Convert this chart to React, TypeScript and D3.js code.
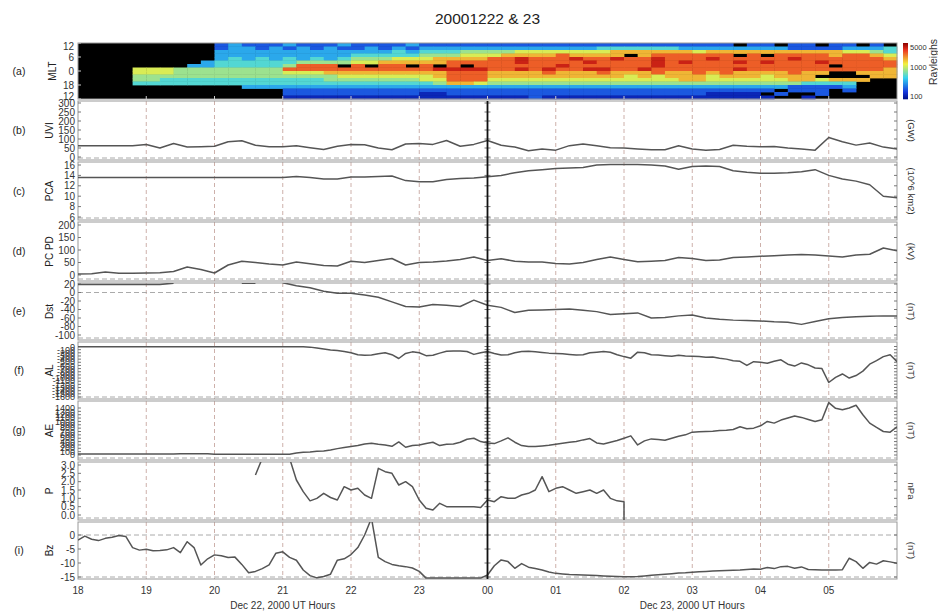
import React, { useEffect, useRef } from 'react'
import * as d3 from 'd3'

// hour axis
const hourTicks = [18, 19, 20, 21, 22, 23, 24, 25, 26, 27, 28, 29]
const hourLabels = ['18', '19', '20', '21', '22', '23', '00', '01', '02', '03', '04', '05']

// 0.2 h samples, 18.0 .. 30.0 UT
const uvi = [63, 63, 63, 63, 63, 70, 50, 75, 55, 57, 60, 85, 90, 65, 57, 57, 62, 52, 42, 60, 70, 68, 50, 40, 72, 75, 70, 92, 60, 70, 92, 65, 55, 35, 45, 38, 63, 72, 62, 52, 50, 45, 40, 40, 62, 45, 38, 42, 65, 60, 57, 58, 50, 44, 38, 108, 85, 66, 78, 55, 44]
const pca = [13.6, 13.6, 13.6, 13.6, 13.6, 13.6, 13.6, 13.6, 13.6, 13.6, 13.6, 13.6, 13.6, 13.6, 13.6, 13.6, 13.8, 13.6, 13.3, 13.3, 13.7, 13.7, 13.8, 13.9, 13.0, 12.8, 12.8, 13.2, 13.4, 13.5, 13.75, 14.0, 14.5, 14.9, 15.1, 15.35, 15.4, 15.5, 16.0, 16.1, 16.1, 16.1, 16.0, 15.8, 15.2, 15.7, 15.8, 15.7, 14.9, 14.6, 14.4, 14.4, 14.5, 14.7, 15.1, 14.0, 13.3, 12.9, 12.2, 10.0, 9.7]
const pcpd = [4, 5, 12, 7, 7, 8, 9, 14, 32, 22, 8, 40, 55, 50, 44, 40, 52, 45, 38, 36, 55, 50, 58, 66, 40, 50, 52, 56, 62, 72, 58, 65, 55, 52, 52, 46, 44, 50, 62, 72, 62, 53, 55, 58, 70, 66, 58, 60, 70, 72, 75, 77, 80, 82, 80, 76, 72, 80, 83, 108, 97]
const dst = [19, 19, 19, 19, 19, 19, 19, 22, null, null, null, null, 22, 22, null, 23, 16, 11, 3, -2, -2, -6, -11, -22, -33, -34, -28, -30, -33, -18, -30, -35, -47, -42, -41, -40, -39, -42, -45, -52, -50, -48, -60, -59, -55, -53, -60, -63, -65, -66, -67, -69, -70, -75, -68, -62, -59, -57, -56, -55, -55]

// 0.1 h samples, 18.0 .. 30.0 UT
const al = [
	-10, -10, -10, -10, -10, -10, -10, -10, -10, -10,
	-10, -10, -10, -10, -10, -10, -10, -10, -10, -10,
	-10, -10, -10, -10, -10, -10, -10, -10, -10, -10,
	-10, -10, -10, -10, -20, -50, -80, -110, -130, -160,
	-200, -260, -280, -270, -230, -200, -260, -380, -220, -170,
	-200, -290, -280, -210, -150, -140, -140, -160, -250, -200,
	-160, -220, -270, -260, -200, -160, -150, -170, -190, -210,
	-220, -230, -250, -270, -260, -200, -180, -160, -180, -260,
	-320, -370, -180, -200, -260, -270, -290, -310, -280, -300,
	-310, -320, -340, -330, -370, -400, -450, -470, -600, -480,
	-500, -530, -470, -420, -560, -620, -520, -580, -680, -700,
	-1140, -980, -870, -1000, -920, -780, -560, -450, -320, -260,
	-480,
]
const ae = [
	30, 30, 30, 30, 30, 30, 30, 30, 30, 30,
	30, 30, 30, 30, 30, 40, 40, 40, 40, 40,
	25, 25, 25, 25, 25, 25, 25, 25, 25, 25,
	25, 25, 60, 80, 90, 110, 120, 150, 190, 220,
	250, 280, 330, 350, 320, 300, 260, 390, 230, 280,
	300, 340, 380, 280, 320, 330, 380, 470, 500, 400,
	360, 340, 420, 510, 380, 280, 250, 250, 270, 290,
	320, 350, 380, 400, 450, 490, 360, 330, 380, 430,
	500, 570, 300, 420, 480, 460, 440, 500, 560, 600,
	680, 690, 700, 710, 730, 740, 760, 840, 780, 800,
	870, 1000, 950, 1040, 1100, 1160, 1120, 1060, 1000, 1050,
	1560, 1390, 1350, 1400, 1480, 1200, 950, 820, 700, 680,
	840,
]
const pdyn = [
	null, null, null, null, null, null, null, null, null, null,
	null, null, null, null, null, null, null, null, null, null,
	null, null, null, null, null, null, 2.4, 3.4, null, null,
	null, 3.4, 2.1, 1.4, 0.85, 1.0, 1.3, 1.05, 0.9, 1.7,
	1.5, 1.6, 1.2, 1.0, 2.8, 2.6, 2.5, 1.8, 2.0, 1.7,
	0.9, 0.4, 0.3, 0.7, 0.5, 0.5, 0.5, 0.5, 0.5, 0.45,
	0.9, 0.8, 1.1, 1.0, 1.0, 1.2, 1.3, 1.5, 2.3, 1.4,
	1.6, 1.7, 1.5, 1.3, 1.4, 1.5, 1.3, 1.5, 1.0, 0.85,
	0.8, null, null, null, null, null, null, null, null, null,
	null, null, null, null, null, null, null, null, null, null,
	null, null, null, null, null, null, null, null, null, null,
	null, null, null, null, null, null, null, null, null, null,
	null,
]
const pdynDrop = { hour: 26.0, value: -0.3 }
const bz = [
	-1.8, -0.4, -1.5, -2.0, -1.2, -0.8, -0.2, -0.5, -4.5, -5.4,
	-5.1, -5.6, -5.5, -5.3, -4.5, -6.3, -2.4, -4.5, -10.7, -8.5,
	-7.1, -7.4, -8.0, -7.9, -10.5, -13.5, -13.0, -12.0, -10.7, -6.5,
	-6.0, -8.0, -9.0, -12.5, -14.5, -15.3, -14.8, -14.0, -9.0, -8.5,
	-7.0, -4.5, 0, 6.0, -8.0, -9.5, -10.5, -11.0, -11.3, -11.8,
	-13.0, -15.4, -15.4, -15.4, -15.4, -15.4, -15.4, -15.4, -15.4, -15.4,
	-14.3, -11.0, -8.9, -9.5, -11.9, -10.2, -11.5, -12.0, -12.5, -13.2,
	-13.7, -13.9, -14.1, -14.2, -14.3, -14.4, -14.5, -14.6, -14.7, -14.8,
	-14.9, -14.9, -14.8, -14.6, -14.4, -14.2, -14.0, -13.8, -13.6, -13.5,
	-13.3, -13.1, -13.0, -12.9, -12.8, -12.7, -12.6, -12.5, -12.3, -12.1,
	-12.2, -11.6, -12.0, -11.3, -11.2, -11.9, -11.4, -12.3, -12.4, -12.5,
	-12.5, -12.5, -12.4, -8.3, -9.5, -11.9, -9.8, -10.4, -9.2, -9.6,
	-10.1,
]

// UVI aurora keogram: rows from MLT 12 (top) down to MLT 12, 1.5 h each; columns 0.2 h UT
// '.' = black, digits = intensity level
const auroraRows = [
	'..........' + '2322232223' + '2222322222' + '2222222222' + '22222222.2' + '2.22.22.2.',
	'..........' + '2332323232' + '2323233333' + '3333333344' + '4444333333' + '3322223334',
	'..........' + '3333333333' + '3334344455' + '5566666667' + '7777767777' + '7777776654',
	'..........' + '3333333333' + '4444455566' + '6777787777' + '.7888888.8' + '.888878876',
	'..........' + '3434343434' + '5556667777' + '8898889889' + '8898889888' + '8898888887',
	'.........3' + '4444445555' + '6677777888' + '8898888988' + '8898988898' + '9888988888',
	'........33' + '444445888.' + '8.88.8.8.8' + '8888898888' + '8898888888' + '88888.8888',
	'....666555' + '5555588888' + '8888889999' + '8898988998' + '8988888898' + '8888888887',
	'....666555' + '5555566677' + '7777777888' + '7777877787' + '7787787877' + '77877..777',
	'....555555' + '5555555556' + '6666667888' + '7777777777' + '6767776777' + '6777....77',
	'....554444' + '4444444455' + '5555566888' + '6666666666' + '6666776666' + '66776777..',
	'....444444' + '4444444444' + '4444445776' + '5555555555' + '5555555555' + '5554444...',
	'..........' + '..33333333' + '3333333333' + '3333333333' + '3333333333' + '3322223...',
	'..........' + '.....22222' + '2222222222' + '2222222222' + '2222222222' + '2.222.2...',
	'..........' + '.....22222' + '2222211222' + '2222222222' + '2222221111' + '.2..2.....',
	'..........' + '.....11111' + '1111111111' + '1112111111' + '1111111111' + '1..1......',
]
const auroraLevels = { '1': 110, '2': 180, '3': 320, '4': 520, '5': 800, '6': 1150, '7': 1900, '8': 3200, '9': 5000 }
const auroraHourStep = 0.2
const auroraMltStep = 1.5
const mltTicks = [36, 30, 24, 18, 12]
const mltLabels = ['12', '6', '0', '18', '12']
const colorbarTicks = [5000, 1000, 100]

const uviTicks = [0, 50, 100, 150, 200, 250, 300]
const pcaTicks = [6, 8, 10, 12, 14, 16]
const pcpdTicks = [0, 50, 100, 150, 200]
const dstTicks = [20, 0, -20, -40, -60, -80, -100]
const alTicks = d3.range(0, -1601, -100)
const aeTicks = d3.range(0, 1401, 100)
const pTicks = [0, 0.5, 1, 1.5, 2, 2.5, 3]
const bzTicks = [0, -5, -10, -15]

const FONT = 'Liberation Sans, Arial, Helvetica, sans-serif'

function drawChart(node) {
	const svg = d3.select(node)
	svg.selectAll('*').remove()

	const x = d3.scaleLinear().domain([18, 30]).range([78, 897])
	const left = x(18)
	const right = x(30)
	const coarse = d3.range(61).map((i) => 18 + i * 0.2)
	const fine = d3.range(121).map((i) => 18 + i * 0.1)

	svg.append('rect').attr('width', 938).attr('height', 612).attr('fill', '#fff')
	const defs = svg.append('defs')

	svg
		.append('text')
		.attr('x', x(24))
		.attr('y', 24)
		.attr('text-anchor', 'middle')
		.attr('font-family', FONT)
		.attr('font-size', 15.5)
		.attr('fill', '#222')
		.text('20001222 & 23')

	// ---- panel (a): keogram
	const aTop = 43
	const aBottom = 99
	const mlt = d3.scaleLinear().domain([12, 36]).range([aBottom, aTop])
	const logT = d3.scaleLog().domain([80, 7200]).range([0, 1]).clamp(true)
	const jet = d3
		.scaleLinear()
		.domain([0, 0.125, 0.375, 0.625, 0.875, 1])
		.range(['#00108a', '#1436dc', '#34d2f0', '#f2f03e', '#ec3420', '#8a0000'])
	const color = (v) => jet(logT(v))

	const gA = svg.append('g')
	gA.append('rect')
		.attr('x', left)
		.attr('y', aTop)
		.attr('width', right - left)
		.attr('height', aBottom - aTop)
		.attr('fill', '#000')
	auroraRows.forEach((row, r) => {
		const m1 = 36 - r * auroraMltStep
		row.split('').forEach((c, j) => {
			if (c === '.') return
			const h0 = 18 + j * auroraHourStep
			gA.append('rect')
				.attr('x', x(h0))
				.attr('y', mlt(m1))
				.attr('width', x(h0 + auroraHourStep) - x(h0) + 0.4)
				.attr('height', mlt(m1 - auroraMltStep) - mlt(m1) + 0.4)
				.attr('fill', color(auroraLevels[c]))
		})
	})
	gA.append('rect')
		.attr('x', left)
		.attr('y', aTop)
		.attr('width', right - left)
		.attr('height', aBottom - aTop)
		.attr('fill', 'none')
		.attr('stroke', '#999')
	hourTicks.slice(1).forEach((h) => {
		gA.append('line')
			.attr('x1', x(h))
			.attr('x2', x(h))
			.attr('y1', aBottom - 3)
			.attr('y2', aBottom)
			.attr('stroke', '#ccc')
	})
	mltTicks.forEach((m, i) => {
		const yy = Math.min(Math.max(mlt(m), aTop + 3), aBottom - 3)
		gA.append('text')
			.attr('x', 74)
			.attr('y', yy)
			.attr('dy', '0.35em')
			.attr('text-anchor', 'end')
			.attr('font-family', FONT)
			.attr('font-size', 10)
			.attr('fill', '#333')
			.text(mltLabels[i])
		gA.append('line')
			.attr('x1', left)
			.attr('x2', left + 3)
			.attr('y1', mlt(m))
			.attr('y2', mlt(m))
			.attr('stroke', '#ccc')
	})
	gA.append('text')
		.attr('x', 19)
		.attr('y', (aTop + aBottom) / 2)
		.attr('dy', '0.35em')
		.attr('text-anchor', 'middle')
		.attr('font-family', FONT)
		.attr('font-size', 10.5)
		.attr('fill', '#222')
		.text('(a)')
	gA.append('text')
		.attr('transform', `translate(52,${(aTop + aBottom) / 2}) rotate(-90)`)
		.attr('dy', '0.35em')
		.attr('text-anchor', 'middle')
		.attr('font-family', FONT)
		.attr('font-size', 10)
		.attr('fill', '#222')
		.text('MLT')

	// colour bar
	const cb = d3.scaleLog().domain([80, 7200]).range([aBottom, aTop])
	d3.range(aTop, aBottom, 1).forEach((yy) => {
		gA.append('rect')
			.attr('x', 903)
			.attr('y', yy)
			.attr('width', 5)
			.attr('height', 1.3)
			.attr('fill', color(cb.invert(yy + 0.5)))
	})
	colorbarTicks.forEach((t) => {
		gA.append('text')
			.attr('x', 910)
			.attr('y', cb(t))
			.attr('dy', '0.35em')
			.attr('font-family', FONT)
			.attr('font-size', 7.5)
			.attr('fill', '#333')
			.text(t)
	})
	gA.append('text')
		.attr('transform', `translate(933,62) rotate(-90)`)
		.attr('dy', '0.35em')
		.attr('text-anchor', 'middle')
		.attr('font-family', FONT)
		.attr('font-size', 10.5)
		.attr('fill', '#333')
		.text('Rayleighs')

	// ---- line panels
	const pData = fine.map((h, i) => [h, pdyn[i]])
	pData.splice(81, 0, [pdynDrop.hour, pdynDrop.value])

	const panels = [
		{ tag: '(b)', label: 'UVI', unit: '(GW)', top: 101, bottom: 160, domain: [0, 300], range: [157, 103], ticks: uviTicks, data: coarse.map((h, i) => [h, uvi[i]]) },
		{ tag: '(c)', label: 'PCA', unit: '(10^6 km2)', top: 162, bottom: 220, domain: [6, 16], range: [217, 165], ticks: pcaTicks, data: coarse.map((h, i) => [h, pca[i]]) },
		{ tag: '(d)', label: 'PC PD', unit: '(kV)', top: 222, bottom: 281, domain: [0, 200], range: [275, 225], ticks: pcpdTicks, data: coarse.map((h, i) => [h, pcpd[i]]) },
		{ tag: '(e)', label: 'Dst', unit: '(nT)', top: 283, bottom: 340, domain: [-100, 20], range: [335, 284], ticks: dstTicks, data: coarse.map((h, i) => [h, dst[i]]), zero: true },
		{ tag: '(f)', label: 'AL', unit: '(nT)', top: 342, bottom: 399, domain: [-1600, 0], range: [397, 346.5], ticks: alTicks, data: fine.map((h, i) => [h, al[i]]), small: true },
		{ tag: '(g)', label: 'AE', unit: '(nT)', top: 401, bottom: 460, domain: [0, 1400], range: [455, 408], ticks: aeTicks, data: fine.map((h, i) => [h, ae[i]]), small: true },
		{ tag: '(h)', label: 'P', unit: 'nPa', top: 462, bottom: 520, domain: [0, 3], range: [515, 465], ticks: pTicks, data: pData, fmt: d3.format('.1f') },
		{ tag: '(i)', label: 'Bz', unit: '(nT)', top: 522, bottom: 579, domain: [-15, 0], range: [577, 535], ticks: bzTicks, data: fine.map((h, i) => [h, bz[i]]), zero: true },
	]

	panels.forEach((p, k) => {
		const y = d3.scaleLinear().domain(p.domain).range(p.range)
		const g = svg.append('g')
		const mid = (p.top + p.bottom) / 2

		defs.append('clipPath')
			.attr('id', `clip-${k}`)
			.append('rect')
			.attr('x', left)
			.attr('y', p.top)
			.attr('width', right - left)
			.attr('height', p.bottom - p.top)

		// vertical hour grid
		hourTicks.slice(1).forEach((h) => {
			if (h === 24) return
			g.append('line')
				.attr('x1', x(h))
				.attr('x2', x(h))
				.attr('y1', p.top)
				.attr('y2', p.bottom)
				.attr('stroke', '#cdb0aa')
				.attr('stroke-dasharray', '4,3')
		})
		// horizontal dashed lines
		g.append('line')
			.attr('x1', left)
			.attr('x2', right)
			.attr('y1', p.bottom - 2)
			.attr('y2', p.bottom - 2)
			.attr('stroke', '#aaa')
			.attr('stroke-dasharray', '5,3')
		if (p.zero) {
			g.append('line')
				.attr('x1', left)
				.attr('x2', right)
				.attr('y1', y(0))
				.attr('y2', y(0))
				.attr('stroke', '#aaa')
				.attr('stroke-dasharray', '5,3')
		}

		// border
		g.append('rect')
			.attr('x', left)
			.attr('y', p.top)
			.attr('width', right - left)
			.attr('height', p.bottom - p.top)
			.attr('fill', 'none')
			.attr('stroke', '#999')

		// ticks
		p.ticks.forEach((t) => {
			const yy = y(t)
			;[
				[left, left + 3],
				[right - 3, right],
				[x(24) - 3, x(24) + 3],
			].forEach(([a, b]) => {
				g.append('line')
					.attr('x1', a)
					.attr('x2', b)
					.attr('y1', yy)
					.attr('y2', yy)
					.attr('stroke', '#777')
			})
			g.append('text')
				.attr('x', 75)
				.attr('y', yy)
				.attr('dy', '0.35em')
				.attr('text-anchor', 'end')
				.attr('font-family', FONT)
				.attr('font-size', p.small ? 9 : 10)
				.attr('fill', '#333')
				.text(p.fmt ? p.fmt(t) : t)
		})

		// data line
		const line = d3
			.line()
			.defined((d) => d[1] != null)
			.x((d) => x(d[0]))
			.y((d) => y(d[1]))
		g.append('path')
			.datum(p.data)
			.attr('clip-path', `url(#clip-${k})`)
			.attr('d', line)
			.attr('fill', 'none')
			.attr('stroke', '#555')
			.attr('stroke-width', 1.5)
			.attr('stroke-linejoin', 'round')

		// labels
		g.append('text')
			.attr('x', 19)
			.attr('y', mid)
			.attr('dy', '0.35em')
			.attr('text-anchor', 'middle')
			.attr('font-family', FONT)
			.attr('font-size', 10.5)
			.attr('fill', '#222')
			.text(p.tag)
		g.append('text')
			.attr('transform', `translate(49,${mid}) rotate(-90)`)
			.attr('dy', '0.35em')
			.attr('text-anchor', 'middle')
			.attr('font-family', FONT)
			.attr('font-size', 10)
			.attr('fill', '#222')
			.text(p.label)
		g.append('text')
			.attr('transform', `translate(911,${mid}) rotate(90)`)
			.attr('dy', '0.35em')
			.attr('text-anchor', 'middle')
			.attr('font-family', FONT)
			.attr('font-size', 9.5)
			.attr('fill', '#333')
			.text(p.unit)
	})

	// day boundary axis at 00 UT
	svg.append('line')
		.attr('x1', x(24))
		.attr('x2', x(24))
		.attr('y1', panels[0].top)
		.attr('y2', panels[panels.length - 1].bottom)
		.attr('stroke', '#111')
		.attr('stroke-width', 1.8)

	// x axis labels
	hourTicks.forEach((h, i) => {
		svg.append('text')
			.attr('x', x(h))
			.attr('y', 594)
			.attr('text-anchor', 'middle')
			.attr('font-family', FONT)
			.attr('font-size', 10)
			.attr('fill', '#333')
			.text(hourLabels[i])
	})
	svg.append('text')
		.attr('x', x(21))
		.attr('y', 609)
		.attr('text-anchor', 'middle')
		.attr('font-family', FONT)
		.attr('font-size', 10)
		.attr('fill', '#333')
		.text('Dec 22, 2000 UT Hours')
	svg.append('text')
		.attr('x', x(27))
		.attr('y', 609)
		.attr('text-anchor', 'middle')
		.attr('font-family', FONT)
		.attr('font-size', 10)
		.attr('fill', '#333')
		.text('Dec 23, 2000 UT Hours')
}

export default function App() {
	const ref = useRef(null)
	useEffect(() => {
		if (ref.current) drawChart(ref.current)
	}, [])
	return (
		<svg
			ref={ref}
			width={938}
			height={612}
			style={{ position: 'absolute', left: 0, top: 0, display: 'block' }}
		/>
	)
}
